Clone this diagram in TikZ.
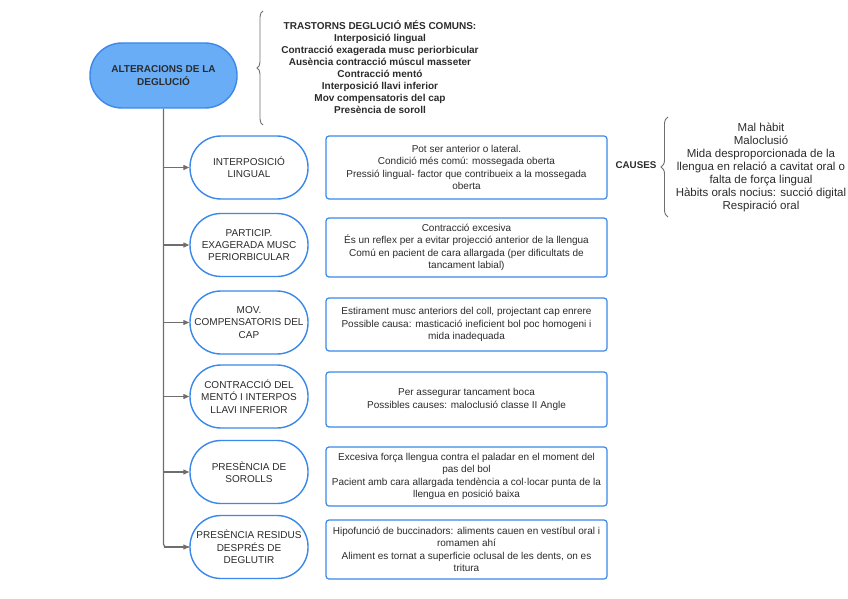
\documentclass[tikz,border=0pt]{standalone}
\usepackage{fontspec}
\setmainfont{Liberation Sans}
\usetikzlibrary{decorations.pathreplacing,arrows.meta}
\definecolor{bblue}{HTML}{3A88EA}
\definecolor{mainfill}{HTML}{6AADF7}
\definecolor{linegray}{HTML}{6E6E6E}
\definecolor{txt}{HTML}{2B2B2B}
\begin{document}
\begin{tikzpicture}[x=1pt,y=-1pt,
  every node/.style={text=txt, inner sep=2pt},
  mainnode/.style={draw=bblue, fill=mainfill, line width=1.4pt, rounded corners=32pt, minimum width=147pt, minimum height=65pt, align=center, font=\fontsize{10}{12.5}\selectfont\bfseries},
  subnode/.style={draw=bblue, fill=white, line width=1.4pt, rounded corners=31pt, minimum width=118pt, minimum height=63pt, align=center, font=\fontsize{10}{12.3}\selectfont},
  infobox/.style={draw=bblue, fill=white, line width=1.2pt, rounded corners=3pt, minimum width=281pt, align=center, font=\fontsize{10}{12.3}\selectfont},
  plaintext/.style={align=center},
  conn/.style={draw=linegray, line width=1.2pt},
  arr/.style={conn, -{Triangle[length=6pt,width=5pt]}},
  bracestyle/.style={draw=linegray, line width=0.9pt, decorate}
]
\useasboundingbox (0,0) rectangle (848,599);

\node[mainnode] (main) at (163.5,75.5) {ALTERACIONS DE LA\\DEGLUCIÓ};

\node[plaintext, font=\fontsize{10}{12.1}\selectfont\bfseries] (trast) at (380,67)
 {TRASTORNS DEGLUCIÓ MÉS COMUNS:\\Interposició lingual\\Contracció exagerada musc periorbicular\\Ausència contracció múscul masseter\\Contracció mentó\\Interposició llavi inferior\\Mov compensatoris del cap\\Presència de soroll};
\coordinate (b1a) at (263,125);
\coordinate (b1b) at (263,11);
\draw[bracestyle, decoration={brace, amplitude=6pt}] (b1a) -- (b1b);

\node[subnode] (s1) at (249,167.5) {INTERPOSICIÓ\\LINGUAL};
\node[subnode] (s2) at (249,245) {PARTICIP.\\EXAGERADA MUSC\\PERIORBICULAR};
\node[subnode] (s3) at (249,322.5) {MOV.\\COMPENSATORIS DEL\\CAP};
\node[subnode] (s4) at (249,396.5) {CONTRACCIÓ DEL\\MENTÓ I INTERPOS\\LLAVI INFERIOR};
\node[subnode] (s5) at (249,472) {PRESÈNCIA DE\\SOROLLS};
\node[subnode] (s6) at (249,547) {PRESÈNCIA RESIDUS\\DESPRÉS DE\\DEGLUTIR};

\node[infobox, minimum height=63pt] (i1) at (466.5,167.5) {Pot ser anterior o lateral.\\Condició més comú: mossegada oberta\\Pressió lingual- factor que contribueix a la mossegada\\oberta};
\node[infobox, minimum height=59pt] (i2) at (466.5,247.5) {Contracció excesiva\\És un reflex per a evitar projecció anterior de la llengua\\Comú en pacient de cara allargada (per dificultats de\\tancament labial)};
\node[infobox, minimum height=53pt] (i3) at (466.5,324.5) {Estirament musc anteriors del coll, projectant cap enrere\\Possible causa: masticació ineficient bol poc homogeni i\\mida inadequada};
\node[infobox, minimum height=55pt] (i4) at (466.5,399.5) {Per assegurar tancament boca\\Possibles causes: maloclusió classe II Angle};
\node[infobox, minimum height=59pt] (i5) at (466.5,476.5) {Excesiva força llengua contra el paladar en el moment del\\pas del bol\\Pacient amb cara allargada tendència a col·locar punta de la\\llengua en posició baixa};
\node[infobox, minimum height=59pt] (i6) at (466.5,549.5) {Hipofunció de buccinadors: aliments cauen en vestíbul oral i\\romamen ahí\\Aliment es tornat a superficie oclusal de les dents, on es\\tritura};

\node[plaintext, font=\fontsize{9.8}{12}\selectfont\bfseries] (causes) at (636,165) {CAUSES};
\coordinate (b2a) at (668,217);
\coordinate (b2b) at (668,117);
\draw[bracestyle, decoration={brace, amplitude=7pt}] (b2a) -- (b2b);
\node[plaintext, font=\fontsize{11.5}{13}\selectfont] (causelist) at (761,167)
 {Mal hàbit\\Maloclusió\\Mida desproporcionada de la\\llengua en relació a cavitat oral o\\falta de força lingual\\Hàbits orals nocius: succió digital\\Respiració oral};

\draw[conn, rounded corners=3pt] (main.south) -- (main.south |- s6.west) -- (s6.west);
\draw[arr] (main.south |- s6.west) -- (s6.west);
\foreach \s in {s1,s2,s3,s4,s5}{
  \draw[arr] (main.south |- \s.west) -- (\s.west);
}
\end{tikzpicture}
\end{document}
